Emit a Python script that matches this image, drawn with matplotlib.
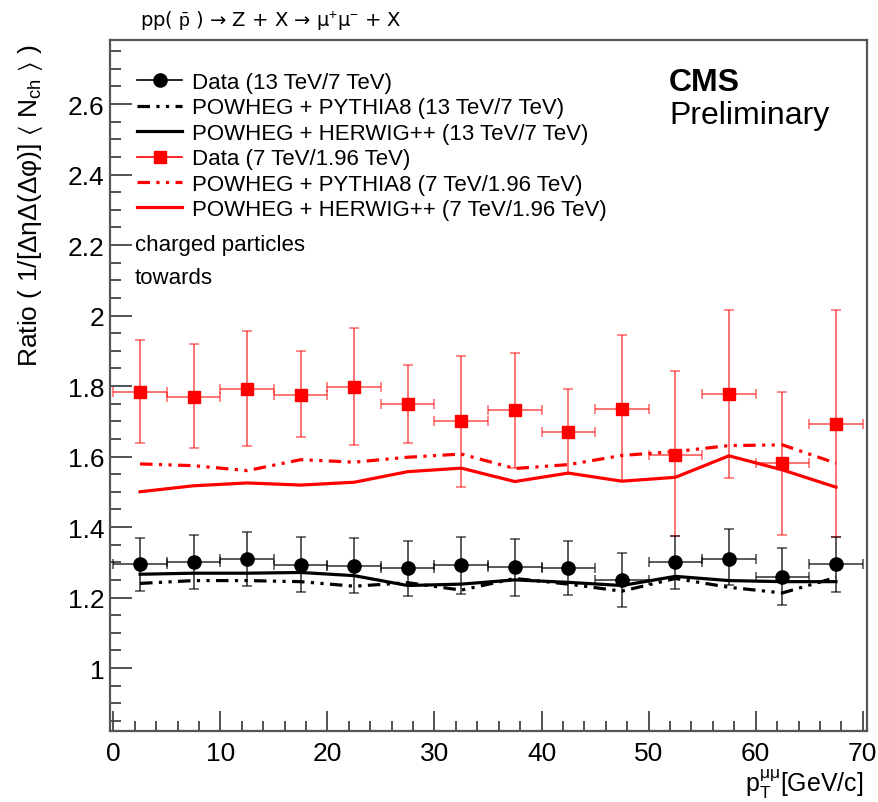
import matplotlib
matplotlib.use("Agg")
import matplotlib.pyplot as plt
from matplotlib.lines import Line2D
from matplotlib.ticker import MultipleLocator, FormatStrFormatter

# ---------------- data ----------------
pt_centers = [2.5, 7.5, 12.5, 17.5, 22.5, 27.5, 32.5, 37.5, 42.5, 47.5, 52.5, 57.5, 62.5, 67.5]
pt_halfwidth = [2.5] * 14

data_13_7 = [1.294, 1.301, 1.309, 1.293, 1.289, 1.283, 1.291, 1.286, 1.285, 1.250, 1.302, 1.309, 1.259, 1.296]
data_13_7_up = [1.369, 1.376, 1.386, 1.372, 1.369, 1.359, 1.372, 1.367, 1.359, 1.326, 1.375, 1.394, 1.340, 1.371]
data_13_7_lo = [1.219, 1.225, 1.232, 1.215, 1.212, 1.204, 1.211, 1.205, 1.208, 1.173, 1.224, 1.235, 1.179, 1.215]
pythia_13_7 = [1.240, 1.248, 1.248, 1.245, 1.232, 1.242, 1.221, 1.254, 1.238, 1.218, 1.254, 1.229, 1.213, 1.257]
herwig_13_7 = [1.266, 1.269, 1.269, 1.271, 1.262, 1.234, 1.238, 1.250, 1.243, 1.234, 1.260, 1.248, 1.245, 1.245]

data_7_196 = [1.784, 1.770, 1.791, 1.775, 1.798, 1.748, 1.700, 1.731, 1.670, 1.736, 1.603, 1.778, 1.581, 1.691]
data_7_196_up = [1.931, 1.919, 1.955, 1.898, 1.965, 1.859, 1.884, 1.894, 1.791, 1.945, 1.843, 2.016, 1.782, 2.016]
data_7_196_lo = [1.637, 1.625, 1.629, 1.654, 1.633, 1.637, 1.514, 1.567, 1.554, 1.530, 1.375, 1.539, 1.377, 1.371]
pythia_7_196 = [1.579, 1.574, 1.560, 1.591, 1.584, 1.598, 1.607, 1.566, 1.577, 1.603, 1.614, 1.631, 1.633, 1.581]
herwig_7_196 = [1.500, 1.517, 1.525, 1.519, 1.527, 1.557, 1.567, 1.529, 1.553, 1.530, 1.541, 1.602, 1.562, 1.513]

legend_labels = [
    "Data (13 TeV/7 TeV)",
    "POWHEG + PYTHIA8 (13 TeV/7 TeV)",
    "POWHEG + HERWIG++ (13 TeV/7 TeV)",
    "Data (7 TeV/1.96 TeV)",
    "POWHEG + PYTHIA8 (7 TeV/1.96 TeV)",
    "POWHEG + HERWIG++ (7 TeV/1.96 TeV)",
]
y_ticks = [1.0, 1.2, 1.4, 1.6, 1.8, 2.0, 2.2, 2.4, 2.6]
x_ticks = [0, 10, 20, 30, 40, 50, 60, 70]

# ---------------- style ----------------
W, H = 879, 803
plt.rcParams['font.family'] = ['Liberation Sans', 'DejaVu Sans']
plt.rcParams['mathtext.fontset'] = 'custom'
plt.rcParams['mathtext.rm'] = 'Liberation Sans'
plt.rcParams['mathtext.it'] = 'Liberation Sans:italic'
plt.rcParams['mathtext.bf'] = 'Liberation Sans:bold'
plt.rcParams['mathtext.fallback'] = 'stixsans'

fig = plt.figure(figsize=(W / 100, H / 100), dpi=100)
ax_l, ax_r, ax_t, ax_b = 110, 866.7, 41, 732
ax = fig.add_axes([ax_l / W, 1 - ax_b / H, (ax_r - ax_l) / W, (ax_b - ax_t) / H])

ax.set_xlim(-0.31, 70.37)
ax.set_ylim(0.8213, 2.7816)

dashdotdot = (0, (3.9, 2.0, 1.0, 2.0, 1.0, 2.0))
LW = 2.3
RED = '#ff0000'

ax.plot(pt_centers, pythia_7_196, color=RED, lw=LW, linestyle=dashdotdot, zorder=2)
ax.plot(pt_centers, herwig_7_196, color=RED, lw=LW, linestyle='-', zorder=2)
ax.plot(pt_centers, pythia_13_7, color='black', lw=LW, linestyle=dashdotdot, zorder=2)
ax.plot(pt_centers, herwig_13_7, color='black', lw=LW, linestyle='-', zorder=2)

red_yerr = [[c - l for c, l in zip(data_7_196, data_7_196_lo)],
            [u - c for c, u in zip(data_7_196, data_7_196_up)]]
blk_yerr = [[c - l for c, l in zip(data_13_7, data_13_7_lo)],
            [u - c for c, u in zip(data_13_7, data_13_7_up)]]

ax.errorbar(pt_centers, data_7_196, xerr=pt_halfwidth, yerr=red_yerr, fmt='none',
            ecolor=(1, 0, 0, 0.55), elinewidth=1.4, capsize=3.5, capthick=1.2, zorder=3)
ax.plot(pt_centers, data_7_196, linestyle='none', marker='s', markersize=9,
        color=RED, zorder=4)
ax.errorbar(pt_centers, data_13_7, xerr=pt_halfwidth, yerr=blk_yerr, fmt='none',
            ecolor=(0, 0, 0, 0.65), elinewidth=1.4, capsize=3.5, capthick=1.2, zorder=3)
ax.plot(pt_centers, data_13_7, linestyle='none', marker='o', markersize=9.5,
        color='black', zorder=4)

# ---------------- axes ----------------
for s in ['top', 'right', 'left', 'bottom']:
    ax.spines[s].set_color('#555555')
    ax.spines[s].set_linewidth(1.6)

ax.xaxis.set_minor_locator(MultipleLocator(2))
ax.yaxis.set_minor_locator(MultipleLocator(0.05))
ax.set_yticks(y_ticks)
ax.set_xticks(x_ticks)
ax.yaxis.set_major_formatter(FormatStrFormatter('%g'))
ax.xaxis.set_major_formatter(FormatStrFormatter('%g'))
ax.tick_params(axis='both', which='both', direction='in', top=False, right=False,
               color='#444444', width=1.3)
ax.tick_params(axis='y', which='major', length=16, labelsize=19, pad=4)
ax.tick_params(axis='y', which='minor', length=8)
ax.tick_params(axis='x', which='major', length=14.5, labelsize=19, pad=7)
ax.tick_params(axis='x', which='minor', length=7)

# y label (top aligned like ROOT)
fig.text(31 / W, 1 - 44 / H,
         'Ratio ( 1/[ΔηΔ(Δφ)] $\\langle$ N$_{\\rm ch}$ $\\rangle$ )',
         rotation=90, ha='center', va='top', fontsize=19)
# x label (right aligned)
fig.text(864 / W, 1 - 784 / H, 'p$_{\\rm T}^{\\rm μμ}$[GeV/c]', ha='right', va='center',
         fontsize=18)

# title
fig.text(140 / W, 1 - 21 / H,
         'pp( $\\bar{\\rm p}$ ) → Z + X → μ$^{+}$μ$^{-}$ + X',
         ha='left', va='center', fontsize=14, family=['DejaVu Sans'])

# CMS label
fig.text(669 / W, 1 - 83 / H, 'CMS', ha='left', va='center', fontsize=23, fontweight='bold')
fig.text(669 / W, 1 - 116 / H, 'Preliminary', ha='left', va='center', fontsize=23)

fig.text(135 / W, 1 - 245 / H, 'charged particles', ha='left', va='center', fontsize=16)
fig.text(135 / W, 1 - 279 / H, 'towards', ha='left', va='center', fontsize=16)

# legend
handles = [
    Line2D([], [], color='black', lw=1.2, marker='o', markersize=9.5),
    Line2D([], [], color='black', lw=LW, linestyle=dashdotdot),
    Line2D([], [], color='black', lw=LW, linestyle='-'),
    Line2D([], [], color=RED, lw=1.2, marker='s', markersize=9),
    Line2D([], [], color=RED, lw=LW, linestyle=dashdotdot),
    Line2D([], [], color=RED, lw=LW, linestyle='-'),
]
leg = ax.legend(handles, legend_labels, loc='upper left',
                bbox_to_anchor=((137 - ax_l) / (ax_r - ax_l), (ax_b - 73) / (ax_b - ax_t)),
                frameon=False, fontsize=16, handlelength=2.03, handletextpad=0.44,
                labelspacing=0.2, borderpad=0, borderaxespad=0)

fig.savefig('out.png', dpi=100)
